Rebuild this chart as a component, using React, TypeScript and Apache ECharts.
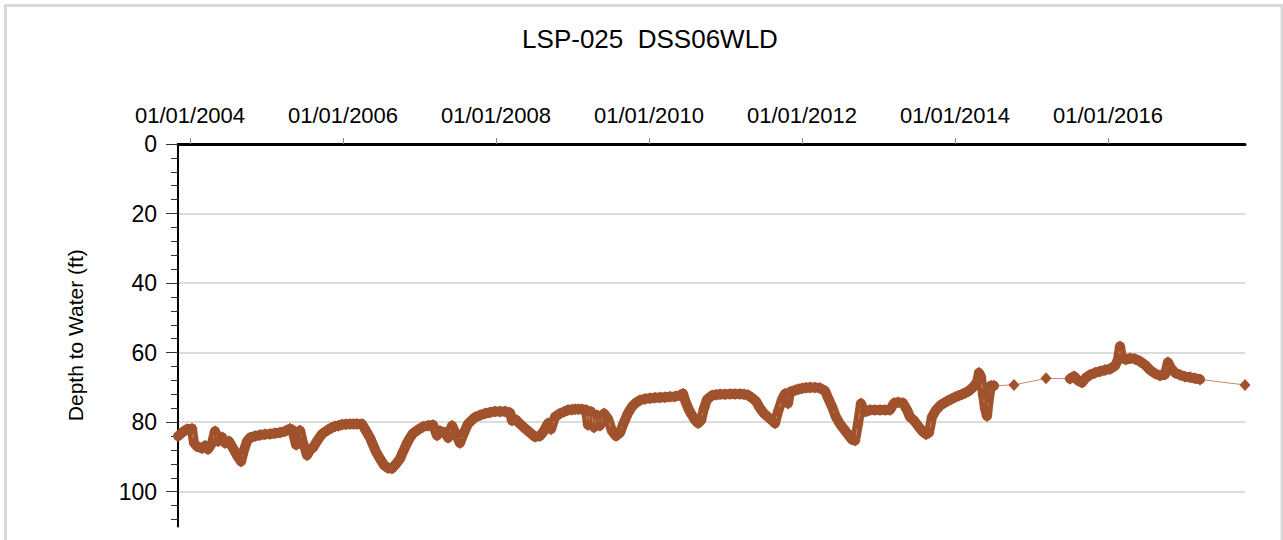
import React, { useEffect, useRef } from "react";
import * as echarts from "echarts";

const titleText = "LSP-025  DSS06WLD";
const yAxisName = "Depth to Water (ft)";
const xTickYears = [2004, 2006, 2008, 2010, 2012, 2014, 2016];
const yTickValues = [0, 20, 40, 60, 80, 100];

// sample time (decimal year) and depth to water (ft)
const sampleYears = [
  2003.845, 2003.895, 2003.961, 2004.026, 2004.052, 2004.092, 2004.157, 2004.196, 2004.235, 2004.288,
  2004.327, 2004.366, 2004.418, 2004.458, 2004.51, 2004.549, 2004.588, 2004.627, 2004.667, 2004.706,
  2004.745, 2004.784, 2004.85, 2004.915, 2004.98, 2005.046, 2005.111, 2005.176, 2005.242, 2005.307,
  2005.346, 2005.359, 2005.386, 2005.412, 2005.438, 2005.477, 2005.503, 2005.529, 2005.569, 2005.608,
  2005.673, 2005.725, 2005.804, 2005.843, 2005.895, 2005.941, 2005.987, 2006.039, 2006.092, 2006.137,
  2006.183, 2006.248, 2006.301, 2006.353, 2006.392, 2006.431, 2006.484, 2006.536, 2006.588, 2006.641,
  2006.693, 2006.745, 2006.784, 2006.837, 2006.876, 2006.915, 2006.98, 2007.046, 2007.111, 2007.176,
  2007.229, 2007.268, 2007.333, 2007.373, 2007.425, 2007.477, 2007.529, 2007.582, 2007.634, 2007.68,
  2007.725, 2007.791, 2007.856, 2007.922, 2007.987, 2008.052, 2008.118, 2008.183, 2008.209, 2008.261,
  2008.314, 2008.379, 2008.444, 2008.51, 2008.575, 2008.627, 2008.68, 2008.719, 2008.771, 2008.837,
  2008.889, 2008.941, 2008.987, 2009.033, 2009.078, 2009.124, 2009.176, 2009.203, 2009.242, 2009.281,
  2009.32, 2009.359, 2009.412, 2009.464, 2009.516, 2009.569, 2009.621, 2009.673, 2009.725, 2009.778,
  2009.83, 2009.882, 2009.948, 2010.013, 2010.078, 2010.144, 2010.209, 2010.275, 2010.34, 2010.405,
  2010.444, 2010.484, 2010.523, 2010.562, 2010.601, 2010.641, 2010.68, 2010.719, 2010.758, 2010.824,
  2010.876, 2010.928, 2010.993, 2011.059, 2011.124, 2011.19, 2011.242, 2011.294, 2011.346, 2011.399,
  2011.451, 2011.503, 2011.556, 2011.608, 2011.647, 2011.686, 2011.739, 2011.778, 2011.817, 2011.843,
  2011.908, 2011.954, 2012.0, 2012.052, 2012.105, 2012.17, 2012.235, 2012.301, 2012.34, 2012.392,
  2012.444, 2012.497, 2012.549, 2012.601, 2012.654, 2012.693, 2012.732, 2012.771, 2012.81, 2012.85,
  2012.889, 2012.954, 2013.02, 2013.085, 2013.15, 2013.203, 2013.255, 2013.32, 2013.373, 2013.412,
  2013.464, 2013.516, 2013.569, 2013.621, 2013.66, 2013.699, 2013.752, 2013.817, 2013.856, 2013.895,
  2013.948, 2014.0, 2014.046, 2014.092, 2014.131, 2014.17, 2014.235, 2014.288, 2014.314, 2014.34,
  2014.366, 2014.392, 2014.418, 2014.444, 2014.471, 2014.51, 2014.771, 2015.19, 2015.503, 2015.556,
  2015.608, 2015.66, 2015.712, 2015.765, 2015.83, 2015.895, 2015.961, 2016.026, 2016.092, 2016.131,
  2016.157, 2016.183, 2016.235, 2016.288, 2016.353, 2016.418, 2016.484, 2016.549, 2016.614, 2016.68,
  2016.745, 2016.784, 2016.824, 2016.876, 2016.941, 2017.007, 2017.072, 2017.137, 2017.203, 2017.791,
];

const depthFt = [
  84.0, 83.0, 82.0, 81.9, 86.0, 87.0, 87.5, 86.8, 87.8, 86.0,
  82.6, 85.5, 84.3, 86.0, 85.5, 87.0, 88.5, 90.0, 91.3, 88.0,
  85.5, 84.5, 84.0, 83.7, 83.5, 83.4, 83.2, 83.0, 82.6, 81.9,
  82.3, 84.0, 86.5, 85.0, 82.4, 86.0, 87.5, 89.5, 88.0, 87.3,
  85.0, 83.4, 82.2, 81.7, 81.2, 81.0, 80.7, 80.6, 80.5, 80.5,
  80.5, 80.5, 82.5, 84.5, 86.5, 88.5, 90.5, 92.3, 93.2, 93.3,
  92.0, 90.5, 88.5, 86.0, 84.5, 83.2, 82.2, 81.3, 81.0, 80.8,
  83.8, 82.5, 83.0, 84.5, 81.0, 83.5, 86.0, 83.0, 80.5, 79.5,
  78.6, 78.0, 77.5, 77.2, 76.9, 76.9, 76.9, 77.3, 79.5, 79.3,
  80.5, 81.8, 83.0, 84.2, 84.0, 82.5, 80.3, 82.0, 78.5, 77.5,
  77.0, 76.5, 76.4, 76.3, 76.3, 76.3, 76.5, 80.8, 77.0, 81.5,
  78.0, 81.0, 77.5, 79.0, 82.5, 84.0, 83.0, 80.0, 77.4, 75.5,
  74.4, 73.7, 73.3, 73.1, 73.0, 72.9, 72.8, 72.7, 72.6, 72.3,
  71.8, 74.5, 76.5, 78.0, 79.4, 80.3, 79.5, 76.0, 73.5, 72.3,
  72.1, 72.0, 72.0, 71.9, 71.9, 71.9, 72.0, 72.2, 73.0, 74.0,
  76.0, 77.5, 78.5, 79.5, 80.3, 77.0, 73.5, 71.8, 74.6, 71.3,
  70.8, 70.5, 70.3, 70.1, 70.0, 70.0, 70.2, 71.0, 73.0, 75.5,
  78.5, 80.5, 82.0, 83.5, 85.0, 85.3, 80.5, 74.6, 77.0, 76.8,
  76.5, 76.5, 76.5, 76.5, 76.5, 74.5, 74.3, 74.5, 76.5, 78.5,
  79.5, 81.0, 82.5, 83.5, 83.0, 78.5, 76.5, 75.0, 74.5, 74.0,
  73.4, 72.8, 72.4, 72.0, 71.6, 71.2, 70.0, 68.5, 65.8, 67.0,
  72.0, 76.0, 78.2, 73.0, 69.5, 69.5, 69.3, 67.4, 67.5, 66.8,
  68.0, 68.6, 67.2, 66.4, 65.8, 65.4, 65.0, 64.7, 63.8, 62.0,
  58.2, 61.5, 62.0, 61.6, 61.8, 62.5, 63.5, 65.0, 66.0, 66.6,
  66.3, 62.8, 64.5, 65.8, 66.4, 66.9, 67.1, 67.4, 67.7, 69.3,
];

const xMin = 2003.843;
const xMax = 2017.791;
const markerColor = "#A0522D";

export default function App() {
  const ref = useRef<HTMLDivElement>(null);

  useEffect(() => {
    if (!ref.current) return;
    const chart = echarts.init(ref.current, undefined, { renderer: "svg" });
    const font = "'Liberation Sans', Arial, sans-serif";
    const data = sampleYears.map((t, i) => [t, depthFt[i]]);

    // dense daily record drawn as a continuous band; break it where the
    // record becomes sparse so those gaps keep only the thin connector
    const band: any[] = [];
    sampleYears.forEach((t, i) => {
      if (i > 0 && t - sampleYears[i - 1] > 0.15) {
        band.push([(t + sampleYears[i - 1]) / 2, "-"]);
      }
      band.push([t, depthFt[i]]);
    });

    chart.setOption({
      animation: false,
      backgroundColor: "#ffffff",
      title: {
        text: titleText,
        left: 645,
        top: 21,
        textAlign: "center",
        textStyle: { fontFamily: font, fontSize: 26, fontWeight: "normal", color: "#000" },
      },
      graphic: [
        {
          type: "rect",
          shape: { x: 5.5, y: 5.5, width: 1276.5, height: 600 },
          style: { fill: "none", stroke: "#d9d9d9", lineWidth: 3 },
          silent: true,
        },
      ],
      grid: { left: 178, top: 144, width: 1067, height: 382.5, containLabel: false },
      xAxis: {
        type: "value",
        position: "top",
        min: xMin,
        max: xMax,
        axisLine: { show: true, lineStyle: { color: "#000", width: 3 } },
        axisTick: {
          show: true,
          inside: false,
          length: 6,
          customValues: xTickYears,
          lineStyle: { color: "#888", width: 1 },
        },
        axisLabel: {
          show: true,
          customValues: xTickYears,
          margin: 18,
          fontFamily: font,
          fontSize: 22,
          color: "#000",
          formatter: (v: number) => "01/01/" + Math.round(v),
        },
        splitLine: { show: false },
      },
      yAxis: {
        type: "value",
        inverse: true,
        min: 0,
        max: 110,
        interval: 20,
        name: yAxisName,
        nameLocation: "middle",
        nameRotate: 90,
        nameGap: 92,
        nameTextStyle: { fontFamily: font, fontSize: 21, color: "#000" },
        axisLine: { show: true, lineStyle: { color: "#000", width: 2 } },
        axisTick: {
          show: true,
          inside: false,
          length: 12,
          customValues: yTickValues,
          lineStyle: { color: "#333", width: 1 },
        },
        minorTick: { show: true, splitNumber: 5, length: 7, lineStyle: { color: "#333", width: 1 } },
        axisLabel: {
          customValues: yTickValues,
          margin: 21,
          fontFamily: font,
          fontSize: 23,
          color: "#000",
        },
        splitLine: { show: true, lineStyle: { color: "#dcdcdc", width: 2 } },
        minorSplitLine: { show: false },
      },
      series: [
        {
          type: "line",
          data: band,
          symbol: "none",
          connectNulls: false,
          lineStyle: { color: markerColor, width: 10, cap: "round", join: "round" },
          silent: true,
          z: 2,
        },
        {
          type: "line",
          data,
          symbol: "diamond",
          symbolSize: [11, 12],
          showSymbol: true,
          showAllSymbol: true,
          itemStyle: { color: markerColor },
          lineStyle: { color: "#C58C6C", width: 1 },
          clip: false,
          z: 3,
        },
      ],
    });

    return () => chart.dispose();
  }, []);

  return (
    <div
      ref={ref}
      style={{ position: "absolute", left: 0, top: 0, width: 1283, height: 540 }}
    />
  );
}
